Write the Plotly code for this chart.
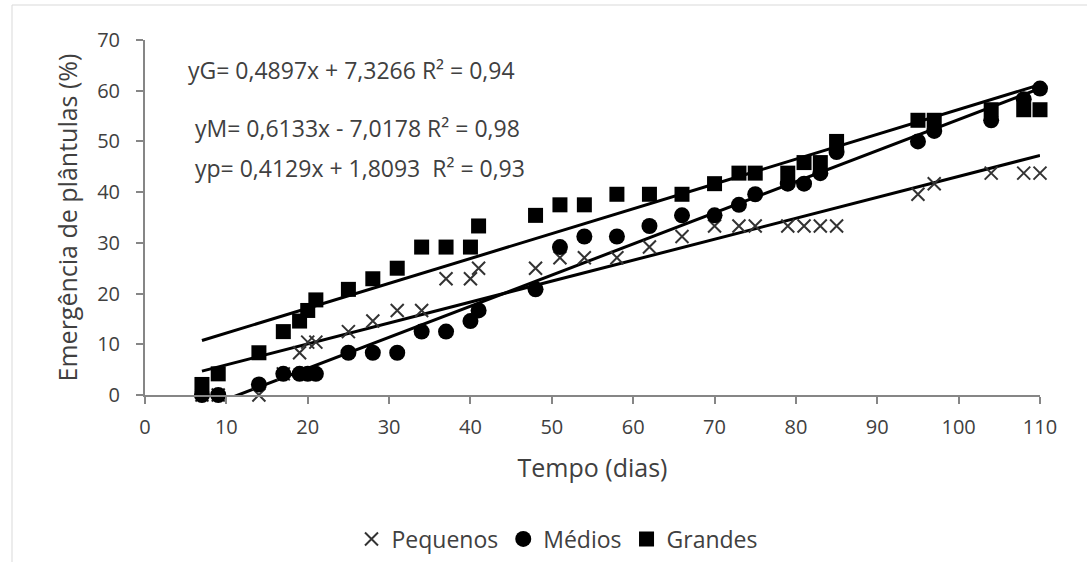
import numpy as np
import plotly.graph_objects as go

dias = [7, 9, 14, 17, 19, 20, 21, 25, 28, 31, 34, 37, 40, 41, 48, 51, 54, 58,
        62, 66, 70, 73, 75, 79, 81, 83, 85, 95, 97, 104, 108, 110]
pequenos = [0, 0, 0, 4.17, 8.33, 10.42, 10.42, 12.5, 14.58, 16.67, 16.67, 22.92,
            22.92, 25, 25, 27.08, 27.08, 27.08, 29.17, 31.25, 33.33, 33.33, 33.33,
            33.33, 33.33, 33.33, 33.33, 39.58, 41.67, 43.75, 43.75, 43.75]
medios = [0, 0, 2.08, 4.17, 4.17, 4.17, 4.17, 8.33, 8.33, 8.33, 12.5, 12.5,
          14.58, 16.67, 20.83, 29.17, 31.25, 31.25, 33.33, 35.42, 35.42, 37.5,
          39.58, 41.67, 41.67, 43.75, 47.92, 50, 52.08, 54.17, 58.33, 60.42]
grandes = [2.08, 4.17, 8.33, 12.5, 14.58, 16.67, 18.75, 20.83, 22.92, 25, 29.17,
           29.17, 29.17, 33.33, 35.42, 37.5, 37.5, 39.58, 39.58, 39.58, 41.67,
           43.75, 43.75, 43.75, 45.83, 45.83, 50, 54.17, 54.17, 56.25, 56.25, 56.25]

# trend line coefficients (slope, intercept) as printed on the chart
coef_G = (0.4897, 7.3266)
coef_M = (0.6133, -7.0178)
coef_P = (0.4129, 1.8093)

eq_labels = [
    "yG= 0,4897x + 7,3266 R² = 0,94",
    "yM= 0,6133x - 7,0178 R² = 0,98",
    "yp= 0,4129x + 1,8093  R² = 0,93",
]

FONT = "Open Sans"
TXT = "#404040"

fig = go.Figure()

xt = np.array([min(dias), max(dias)], dtype=float)
for (m, b) in (coef_P, coef_M, coef_G):
    fig.add_trace(go.Scatter(x=xt, y=m * xt + b, mode="lines",
                             line=dict(color="black", width=3),
                             showlegend=False, hoverinfo="skip"))

fig.add_trace(go.Scatter(x=dias, y=pequenos, mode="markers", name="Pequenos",
                         cliponaxis=False,
                         marker=dict(symbol="x-thin", size=13, color="#333333",
                                     line=dict(width=2, color="#333333"))))
fig.add_trace(go.Scatter(x=dias, y=medios, mode="markers", name="Médios",
                         cliponaxis=False,
                         marker=dict(symbol="circle", size=16, color="black")))
fig.add_trace(go.Scatter(x=dias, y=grandes, mode="markers", name="Grandes",
                         cliponaxis=False,
                         marker=dict(symbol="square", size=15, color="black")))

ann_pos = [(186, 70), (193, 128), (193, 168)]
for (px, py), t in zip(ann_pos, eq_labels):
    fig.add_annotation(x=(px - 145) / 895, y=(395 - py) / 355, xref="paper", yref="paper",
                       text=t, showarrow=False, xanchor="left", yanchor="middle",
                       font=dict(family=FONT, size=23, color=TXT))

# outer chart frame
fig.add_shape(type="rect", xref="paper", yref="paper",
              x0=(12 - 145) / 895, x1=(1100 - 145) / 895,
              y0=(395 - 580) / 355, y1=(395 - 5) / 355,
              line=dict(color="#d9d9d9", width=1), layer="below")

fig.update_layout(
    width=1087, height=562,
    margin=dict(l=145, r=47, t=40, b=167, autoexpand=False),
    paper_bgcolor="white", plot_bgcolor="white",
    font=dict(family=FONT, size=18, color=TXT),
    legend=dict(orientation="h", xref="container", yref="container",
                x=557 / 1087, xanchor="center", y=1 - 539 / 562,
                yanchor="middle", font=dict(family=FONT, size=23, color=TXT),
                itemwidth=30, tracegroupgap=0),
    xaxis=dict(range=[0, 110], dtick=10, showgrid=False, zeroline=False,
               showline=True, linecolor="#868686", linewidth=2,
               ticks="outside", ticklen=7, tickcolor="#868686", tickwidth=2,
               ticklabelstandoff=6, automargin=False,
               title=dict(text="Tempo (dias)", font=dict(size=25), standoff=20),
               tickfont=dict(size=20)),
    yaxis=dict(range=[0, 70], dtick=10, showgrid=False, zeroline=False,
               showline=True, linecolor="#868686", linewidth=2,
               ticks="outside", ticklen=7, tickcolor="#868686", tickwidth=2,
               ticklabelstandoff=12, automargin=False,
               title=dict(text="Emergência de plântulas (%)", font=dict(size=25), standoff=12),
               tickfont=dict(size=20)),
)

fig.write_html("out.html")
